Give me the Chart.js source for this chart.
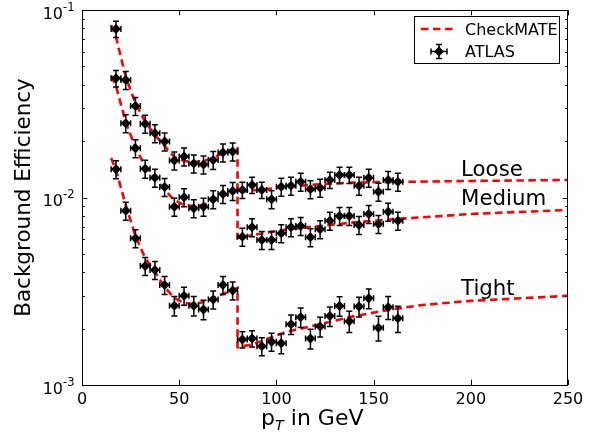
<!DOCTYPE html>
<html>
<head>
<meta charset="utf-8">
<script src="https://cdn.jsdelivr.net/npm/chart.js@4.4.0/dist/chart.umd.min.js"></script>
<style>
    body { margin: 0; background: #fff; }
    #wrap { width: 604px; height: 433px; }
</style>
</head>
<body>
<div id="wrap"><canvas id="effChart" width="604" height="433"></canvas></div>
<script>
// ::::: ATLAS points (bin centres in GeV, bin half width 2.5) :::::
const ptBins = [17.5, 22.5, 27.5, 32.5, 37.5, 42.5, 47.5, 52.5, 57.5, 62.5, 67.5, 72.5, 77.5,
    82.5, 87.5, 92.5, 97.5, 102.5, 107.5, 112.5, 117.5, 122.5, 127.5, 132.5, 137.5, 142.5, 147.5, 152.5, 157.5, 162.5];
const xErr = 2.5;

const looseEff = [0.0792, 0.0423, 0.0308, 0.0247, 0.0220, 0.0199, 0.01575, 0.01655, 0.01517, 0.01498, 0.01585, 0.01738, 0.01759,
    0.01096, 0.01166, 0.01096, 0.00978, 0.01142, 0.01156, 0.01214, 0.01106, 0.01128, 0.01240, 0.01318, 0.01318, 0.01156, 0.01275, 0.01074, 0.01240, 0.01214];
const mediumEff = [0.0432, 0.0249, 0.0183, 0.01423, 0.01275, 0.01138, 0.00893, 0.01003, 0.00876, 0.00893, 0.00978, 0.01044, 0.01083,
    0.00618, 0.00694, 0.00593, 0.00593, 0.00644, 0.00694, 0.00705, 0.00613, 0.00677, 0.00752, 0.00797, 0.00797, 0.00713, 0.00817, 0.00722, 0.00840, 0.00752];
const tightEff = [0.01413, 0.00850, 0.00606, 0.00431, 0.00410, 0.00341, 0.00265, 0.00299, 0.00265, 0.00253, 0.00286, 0.00341, 0.00319,
    0.00175, 0.00177, 0.00161, 0.00170, 0.00167, 0.00211, 0.00230, 0.00177, 0.00205, 0.00233, 0.00264, 0.00219, 0.00262, 0.00290, 0.00202, 0.00260, 0.00227];

// relative errors on the efficiencies
const looseErr = [0.10, 0.11, 0.11, 0.11, 0.11, 0.11, 0.11, 0.11, 0.11, 0.11, 0.11, 0.11, 0.11,
    0.10, 0.10, 0.10, 0.11, 0.11, 0.11, 0.11, 0.11, 0.11, 0.10, 0.10, 0.10, 0.11, 0.11, 0.11, 0.11, 0.11];
const mediumErr = [0.10, 0.11, 0.11, 0.11, 0.11, 0.11, 0.11, 0.11, 0.11, 0.11, 0.11, 0.11, 0.11,
    0.11, 0.11, 0.11, 0.11, 0.11, 0.11, 0.11, 0.11, 0.11, 0.11, 0.11, 0.11, 0.11, 0.11, 0.11, 0.11, 0.11];
const tightErr = [0.11, 0.11, 0.11, 0.11, 0.11, 0.11, 0.12, 0.11, 0.12, 0.12, 0.11, 0.11, 0.11,
    0.10, 0.10, 0.11, 0.11, 0.12, 0.12, 0.12, 0.12, 0.12, 0.12, 0.12, 0.13, 0.12, 0.12, 0.15, 0.14, 0.16];

// ::::: CheckMATE curves (drop at 80 GeV) :::::
const looseLineX = [15, 17.5, 22.5, 27.5, 32.5, 37.5, 42.5, 47.5, 52.5, 57.5, 62.5, 67.5, 72.5, 80, 80, 90, 100, 120, 140, 160, 200, 250];
const looseLineY = [0.0832, 0.0718, 0.0439, 0.0319, 0.0253, 0.02154, 0.01882, 0.01644, 0.01566, 0.01547, 0.01566, 0.01625, 0.01727, 0.01859,
    0.01070, 0.01096, 0.01124, 0.01173, 0.01202, 0.01210, 0.01225, 0.01240];
const mediumLineX = [15, 17.5, 22.5, 27.5, 32.5, 37.5, 42.5, 47.5, 52.5, 57.5, 62.5, 67.5, 72.5, 80, 80, 88, 105, 122.5, 140, 160, 175, 200, 250];
const mediumLineY = [0.0445, 0.0393, 0.0253, 0.01837, 0.01472, 0.01271, 0.01096, 0.00970, 0.00912, 0.00901, 0.00912, 0.00970, 0.01019, 0.01096,
    0.00608, 0.00631, 0.00675, 0.00705, 0.00737, 0.00765, 0.00784, 0.00817, 0.00858];
const tightLineX = [15, 17.5, 22.5, 27.5, 32.5, 37.5, 42.5, 47.5, 52.5, 57.5, 62.5, 67.5, 72.5, 80, 80, 88, 105, 122.5, 140, 160, 175, 200, 250];
const tightLineY = [0.01625, 0.01402, 0.00912, 0.00623, 0.00476, 0.00401, 0.00333, 0.00291, 0.00274, 0.00270, 0.00277, 0.00291, 0.00306, 0.00329,
    0.00159, 0.00165, 0.00192, 0.00211, 0.00233, 0.00254, 0.00267, 0.00281, 0.00299];

// ::::: Axes ticks and labels :::::
const xTickValues = [0, 50, 100, 150, 200, 250];
const yMajorValues = [0.001, 0.01, 0.1];
const yMajorExp = ['-3', '-2', '-1'];
const curveNames = ['Loose', 'Medium', 'Tight'];
const curveNameX = [195, 195, 195];
const curveNameY = [0.0130, 0.00912, 0.00302];

const FONT = "'DejaVu Sans', sans-serif";
const RED = '#ff0000';
const DASH = [7.5, 4.5];

function toPoints(xs, ys) {
    return xs.map((x, i) => ({ x: x, y: ys[i] }));
}

// draws the cross of an error bar with caps
function drawErrorCross(ctx, px, py, x0, x1, y0, y1) {
    const cap = 3;
    ctx.beginPath();
    ctx.moveTo(x0, py); ctx.lineTo(x1, py);
    ctx.moveTo(px, y0); ctx.lineTo(px, y1);
    ctx.moveTo(x0, py - cap); ctx.lineTo(x0, py + cap);
    ctx.moveTo(x1, py - cap); ctx.lineTo(x1, py + cap);
    ctx.moveTo(px - cap, y0); ctx.lineTo(px + cap, y0);
    ctx.moveTo(px - cap, y1); ctx.lineTo(px + cap, y1);
    ctx.stroke();
}

function drawDiamond(ctx, x, y, r) {
    ctx.beginPath();
    ctx.moveTo(x - r, y); ctx.lineTo(x, y - r); ctx.lineTo(x + r, y); ctx.lineTo(x, y + r);
    ctx.closePath();
    ctx.fill();
}

// error bars go under the markers of each ATLAS set
const errorBarPlugin = {
    id: 'errorBars',
    beforeDatasetDraw(chart, args) {
        const ds = chart.data.datasets[args.index];
        if (!ds.yErr) return;
        const xs = chart.scales.x, ys = chart.scales.y, ctx = chart.ctx;
        ctx.save();
        ctx.strokeStyle = '#000';
        ctx.lineWidth = 1.5;
        ds.data.forEach((p, i) => {
            const e = ds.yErr[i] * p.y;
            drawErrorCross(ctx,
                xs.getPixelForValue(p.x), ys.getPixelForValue(p.y),
                xs.getPixelForValue(p.x - xErr), xs.getPixelForValue(p.x + xErr),
                ys.getPixelForValue(p.y + e), ys.getPixelForValue(p.y - e));
        });
        ctx.restore();
    }
};

// frame, inward ticks, labels, names and legend in the old matplotlib look
const framePlugin = {
    id: 'frame',
    afterDraw(chart) {
        const ctx = chart.ctx, a = chart.chartArea;
        const xs = chart.scales.x, ys = chart.scales.y;
        const major = 5.3, minor = 2.7;
        ctx.save();
        ctx.strokeStyle = '#000';
        ctx.lineWidth = 1;
        ctx.strokeRect(Math.round(a.left) + 0.5, Math.round(a.top) + 0.5, Math.round(a.right - a.left) - 1, Math.round(a.bottom - a.top));

        ctx.beginPath();
        xTickValues.forEach(v => {
            const px = Math.round(xs.getPixelForValue(v)) + 0.5;
            ctx.moveTo(px, a.bottom); ctx.lineTo(px, a.bottom - major);
            ctx.moveTo(px, a.top); ctx.lineTo(px, a.top + major);
        });
        yMajorValues.forEach((v, k) => {
            const py = Math.round(ys.getPixelForValue(v)) + 0.5;
            ctx.moveTo(a.left, py); ctx.lineTo(a.left + major, py);
            ctx.moveTo(a.right, py); ctx.lineTo(a.right - major, py);
            if (k < yMajorValues.length - 1) {
                for (let m = 2; m <= 9; m++) {
                    const my = Math.round(ys.getPixelForValue(v * m)) + 0.5;
                    ctx.moveTo(a.left, my); ctx.lineTo(a.left + minor, my);
                    ctx.moveTo(a.right, my); ctx.lineTo(a.right - minor, my);
                }
            }
        });
        ctx.stroke();

        ctx.fillStyle = '#000';
        // x tick labels
        ctx.font = '16px ' + FONT;
        ctx.textAlign = 'center';
        ctx.textBaseline = 'alphabetic';
        xTickValues.forEach(v => {
            ctx.fillText(String(v), xs.getPixelForValue(v), a.bottom + 18.5);
        });
        // y tick labels 10^n
        yMajorValues.forEach((v, k) => {
            const py = ys.getPixelForValue(v);
            ctx.font = '11.5px ' + FONT;
            const wSup = ctx.measureText(yMajorExp[k]).width;
            ctx.textAlign = 'left';
            ctx.fillText(yMajorExp[k], 74.5 - wSup, py + 0.5);
            ctx.font = '16px ' + FONT;
            ctx.textAlign = 'right';
            ctx.fillText('10', 74.5 - wSup, py + 8.5);
        });

        // axis titles
        ctx.textAlign = 'left';
        ctx.font = '22px ' + FONT;
        let tx = 261;
        ctx.fillText('p', tx, 425);
        tx += ctx.measureText('p').width;
        ctx.font = 'italic 14.5px ' + FONT;
        ctx.fillText('T', tx, 430);
        tx += ctx.measureText('T').width;
        ctx.font = '22px ' + FONT;
        ctx.fillText(' in GeV', tx, 425);

        ctx.save();
        ctx.translate(30, (a.top + a.bottom) / 2);
        ctx.rotate(-Math.PI / 2);
        ctx.textAlign = 'center';
        ctx.font = '21.5px ' + FONT;
        ctx.fillText('Background Efficiency', 0, 0);
        ctx.restore();

        // names of the working points
        ctx.font = '21.3px ' + FONT;
        ctx.textAlign = 'left';
        curveNames.forEach((name, i) => {
            ctx.fillText(name, xs.getPixelForValue(curveNameX[i]), ys.getPixelForValue(curveNameY[i]));
        });

        // legend
        ctx.fillStyle = '#fff';
        ctx.fillRect(414.5, 16.5, 145, 47);
        ctx.strokeStyle = '#000';
        ctx.strokeRect(414.5, 16.5, 145, 47);
        ctx.strokeStyle = RED;
        ctx.lineWidth = 2.6;
        ctx.setLineDash(DASH);
        ctx.beginPath();
        ctx.moveTo(421, 29); ctx.lineTo(453, 29);
        ctx.stroke();
        ctx.setLineDash([]);
        ctx.strokeStyle = '#000';
        ctx.lineWidth = 1.5;
        drawErrorCross(ctx, 439, 51.5, 431, 447, 44.5, 58.5);
        ctx.fillStyle = '#000';
        drawDiamond(ctx, 439, 51.5, 5);
        ctx.font = '16px ' + FONT;
        ctx.fillText('CheckMATE', 465, 35);
        ctx.fillText('ATLAS', 465, 57.3);
        ctx.restore();
    }
};

function atlasSet(ys, errs) {
    return {
        data: toPoints(ptBins, ys),
        yErr: errs,
        showLine: false,
        pointStyle: 'rectRot',
        pointRadius: 5,
        pointBorderWidth: 0,
        backgroundColor: '#000',
        borderColor: '#000'
    };
}

function checkmateSet(xs, ys) {
    return {
        data: toPoints(xs, ys),
        showLine: true,
        pointRadius: 0,
        borderColor: RED,
        borderWidth: 2.6,
        borderDash: DASH,
        fill: false,
        tension: 0
    };
}

var ctx = document.getElementById('effChart');
var effChart = new Chart(ctx, {
    type: 'scatter',
    data: {
        datasets: [
            atlasSet(looseEff, looseErr),
            atlasSet(mediumEff, mediumErr),
            atlasSet(tightEff, tightErr),
            checkmateSet(looseLineX, looseLineY),
            checkmateSet(mediumLineX, mediumLineY),
            checkmateSet(tightLineX, tightLineY)
        ]
    },
    options: {
        responsive: false,
        animation: false,
        layout: { padding: { left: 82, right: 36, top: 10, bottom: 48 } },
        scales: {
            x: {
                type: 'linear', min: 0, max: 250,
                ticks: { display: false },
                grid: { display: false, drawTicks: false },
                border: { display: false },
                afterFit(s) { s.height = 0; }
            },
            y: {
                type: 'logarithmic', min: 0.001, max: 0.1,
                ticks: { display: false },
                grid: { display: false, drawTicks: false },
                border: { display: false },
                afterFit(s) { s.width = 0; }
            }
        },
        plugins: {
            legend: { display: false },
            tooltip: { enabled: false }
        }
    },
    plugins: [errorBarPlugin, framePlugin]
});
</script>
</body>
</html>
